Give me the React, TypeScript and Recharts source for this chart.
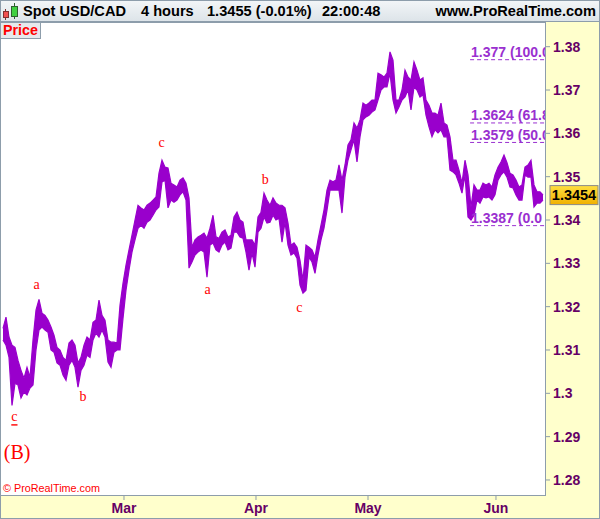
import React from "react";
import { Area, ComposedChart, ReferenceDot, ReferenceLine, XAxis, YAxis } from "recharts";

// USD/CAD 4h, one entry per ~half trading day (high / low of the span)
const HIGHS = [
  1.3150, 1.3176, 1.3130, 1.3111, 1.3106, 1.3076, 1.3053, 1.3035, 1.3060, 1.3037,
  1.3123, 1.3192, 1.3217, 1.3185, 1.3180, 1.3169, 1.3153, 1.3134, 1.3106, 1.3100,
  1.3083, 1.3076, 1.3116, 1.3123, 1.3111, 1.3070, 1.3083, 1.3111, 1.3130, 1.3123,
  1.3164, 1.3169, 1.3215, 1.3180, 1.3169, 1.3123, 1.3118, 1.3118, 1.3116, 1.3203,
  1.3254, 1.3296, 1.3331, 1.3365, 1.3400, 1.3434, 1.3428, 1.3423, 1.3434, 1.3439,
  1.3446, 1.3453, 1.3508, 1.3538, 1.3522, 1.3520, 1.3485, 1.3481, 1.3476, 1.3492,
  1.3497, 1.3485, 1.3451, 1.3337, 1.3354, 1.3361, 1.3365, 1.3370, 1.3358, 1.3381,
  1.3411, 1.3361, 1.3358, 1.3372, 1.3377, 1.3361, 1.3365, 1.3407, 1.3418, 1.3400,
  1.3395, 1.3354, 1.3354, 1.3354, 1.3342, 1.3407, 1.3418, 1.3462, 1.3446, 1.3434,
  1.3451, 1.3439, 1.3434, 1.3434, 1.3428, 1.3393, 1.3342, 1.3347, 1.3337, 1.3307,
  1.3261, 1.3342, 1.3337, 1.3331, 1.3314, 1.3354, 1.3388, 1.3423, 1.3469, 1.3492,
  1.3488, 1.3492, 1.3527, 1.3492, 1.3527, 1.3573, 1.3585, 1.3624, 1.3612, 1.3631,
  1.3670, 1.3665, 1.3670, 1.3677, 1.3677, 1.3739, 1.3735, 1.3730, 1.3739, 1.3788,
  1.3769, 1.3677, 1.3677, 1.3700, 1.3746, 1.3730, 1.3723, 1.3765, 1.3746, 1.3723,
  1.3728, 1.3677, 1.3665, 1.3647, 1.3647, 1.3642, 1.3670, 1.3624, 1.3619, 1.3592,
  1.3538, 1.3538, 1.3515, 1.3485, 1.3538, 1.3504, 1.3430, 1.3481, 1.3469, 1.3469,
  1.3485, 1.3481, 1.3485, 1.3476, 1.3504, 1.3522, 1.3534, 1.3550, 1.3532, 1.3508,
  1.3504, 1.3492, 1.3476, 1.3481, 1.3522, 1.3527, 1.3538, 1.3481, 1.3465, 1.3465,
  1.3458,
];
const LOWS = [
  1.3123, 1.3111, 1.3083, 1.2972, 1.3023, 1.3019, 1.2989, 1.3003, 1.2996, 1.3012,
  1.3019, 1.3100, 1.3146, 1.3153, 1.3146, 1.3141, 1.3100, 1.3095, 1.3070, 1.3065,
  1.3042, 1.3030, 1.3065, 1.3076, 1.3060, 1.3014, 1.3053, 1.3065, 1.3088, 1.3083,
  1.3123, 1.3139, 1.3130, 1.3146, 1.3130, 1.3072, 1.3060, 1.3095, 1.3100, 1.3100,
  1.3173, 1.3238, 1.3284, 1.3326, 1.3354, 1.3381, 1.3388, 1.3381, 1.3395, 1.3400,
  1.3411, 1.3423, 1.3430, 1.3488, 1.3492, 1.3428, 1.3446, 1.3441, 1.3446, 1.3458,
  1.3465, 1.3446, 1.3289, 1.3303, 1.3319, 1.3326, 1.3331, 1.3326, 1.3268, 1.3342,
  1.3347, 1.3331, 1.3326, 1.3342, 1.3349, 1.3331, 1.3335, 1.3372, 1.3372, 1.3361,
  1.3358, 1.3326, 1.3284, 1.3324, 1.3291, 1.3372, 1.3381, 1.3407, 1.3393, 1.3395,
  1.3411, 1.3400, 1.3404, 1.3349, 1.3395, 1.3342, 1.3319, 1.3324, 1.3312, 1.3250,
  1.3231, 1.3238, 1.3314, 1.3303, 1.3277, 1.3319, 1.3354, 1.3381, 1.3423, 1.3469,
  1.3469, 1.3469, 1.3469, 1.3416, 1.3499, 1.3538, 1.3562, 1.3585, 1.3534, 1.3592,
  1.3631, 1.3638, 1.3642, 1.3649, 1.3654, 1.3677, 1.3700, 1.3707, 1.3707, 1.3739,
  1.3677, 1.3647, 1.3661, 1.3677, 1.3684, 1.3700, 1.3654, 1.3707, 1.3700, 1.3684,
  1.3689, 1.3642, 1.3615, 1.3592, 1.3608, 1.3601, 1.3608, 1.3592, 1.3592, 1.3515,
  1.3511, 1.3504, 1.3485, 1.3462, 1.3504, 1.3407, 1.3400, 1.3411, 1.3446, 1.3439,
  1.3453, 1.3451, 1.3453, 1.3446, 1.3458, 1.3492, 1.3504, 1.3511, 1.3499, 1.3476,
  1.3474, 1.3458, 1.3446, 1.3446, 1.3504, 1.3499, 1.3499, 1.3430, 1.3439, 1.3439,
  1.3446,
];

const MONTH_TICKS = [41.33, 85.33, 122.67, 165.33];
const MONTH_LABELS = ["Mar", "Apr", "May", "Jun"];
const PRICE_TICKS = [1.28, 1.29, 1.3, 1.31, 1.32, 1.33, 1.34, 1.35, 1.36, 1.37, 1.38];

// retracement levels; the labels are cut off by the price scale as on screen
const FIB_LEVELS = [1.377, 1.3624, 1.3579, 1.3387];
const FIB_TEXT = ["1.377 (100.0", "1.3624 (61.8", "1.3579 (50.0", "1.3387 (0.0"];
const FIB_FROM = 156.7;

const WAVE_TEXT = ["c", "(B)", "a", "b", "c", "a", "b", "c"];
const WAVE_T = [4.8, 5.7, 12.2, 27.7, 53.9, 69.2, 88.4, 99.8];
const WAVE_PRICE = [1.2946, 1.2865, 1.3252, 1.2992, 1.3578, 1.3239, 1.3494, 1.3198];

const LAST_PRICE = 1.3454;
const X_MAX = 181.67;

const rows = HIGHS.map((hi, i) => ({ t: i + 1, range: [LOWS[i], hi] }));

const SANS = "'Liberation Sans', Arial, sans-serif";
const SERIF = "'Liberation Serif', 'Times New Roman', serif";
const AXIS_TXT = "#660066";
const BORDER = "#8d9dab";
const FIB_COLOR = "#9a30d0";
const LINE_COLOR = "#9900cc";
const PLOT_RIGHT = 545;

function headerText(left: number, text: string, right?: boolean) {
  const pos = right ? { right: 4 } : { left };
  return (
    <span
      style={{
        position: "absolute",
        top: 0,
        ...pos,
        lineHeight: "22px",
        fontSize: 14.6,
        fontWeight: "bold",
        fontFamily: SANS,
        color: "#000",
        whiteSpace: "nowrap",
      }}
    >
      {text}
    </span>
  );
}

export default function App() {
  return (
    <div
      style={{
        position: "absolute",
        left: 0,
        top: 0,
        width: 600,
        height: 519,
        background: "#ffffcc",
        overflow: "hidden",
      }}
    >
      {/* plot background */}
      <div style={{ position: "absolute", left: 0, top: 22, width: 546, height: 474, background: "#fff" }} />

      <div style={{ position: "absolute", left: 0, top: 0 }}>
        <ComposedChart width={600} height={519} data={rows} margin={{ top: 22, right: 0, bottom: 0, left: 0 }}>
          <XAxis
            type="number"
            dataKey="t"
            domain={[0, X_MAX]}
            allowDataOverflow
            ticks={MONTH_TICKS}
            interval={0}
            height={23}
            axisLine={false}
            tickLine={{ stroke: BORDER }}
            tickSize={4}
            tickMargin={3}
            tickFormatter={(v: number) => MONTH_LABELS[MONTH_TICKS.indexOf(v)]}
            tick={{ fill: AXIS_TXT, fontSize: 14, fontWeight: "bold", fontFamily: SANS }}
          />
          <YAxis
            orientation="right"
            domain={[1.2763, 1.3857]}
            allowDataOverflow
            ticks={PRICE_TICKS}
            interval={0}
            width={55}
            axisLine={false}
            tickLine={{ stroke: BORDER }}
            tickSize={5}
            tickMargin={3}
            tickFormatter={(v: number) => String(Number(v.toFixed(2)))}
            tick={{ fill: AXIS_TXT, fontSize: 14, fontWeight: "bold", fontFamily: SANS }}
          />
          <Area
            type="linear"
            dataKey="range"
            fill={LINE_COLOR}
            fillOpacity={1}
            stroke={LINE_COLOR}
            strokeWidth={1.2}
            dot={false}
            activeDot={false}
            isAnimationActive={false}
          />

          {FIB_LEVELS.map((lvl) => (
            <ReferenceLine
              key={"fl" + lvl}
              segment={[
                { x: FIB_FROM, y: lvl },
                { x: X_MAX, y: lvl },
              ]}
              stroke={FIB_COLOR}
              strokeDasharray="4 3"
              strokeWidth={1}
            />
          ))}
          {FIB_LEVELS.map((lvl, i) => (
            <ReferenceDot
              key={"ft" + lvl}
              x={FIB_FROM}
              y={lvl}
              r={0}
              shape={(p: any) => (
                <g>
                  <defs>
                    <clipPath id={"fibClip" + i}>
                      <rect x={p.cx} y={p.cy - 20} width={PLOT_RIGHT - p.cx} height={24} />
                    </clipPath>
                  </defs>
                  <text
                    x={p.cx + 1}
                    y={p.cy - 2.5}
                    clipPath={`url(#fibClip${i})`}
                    fill={FIB_COLOR}
                    fontSize={14}
                    fontWeight="bold"
                    fontFamily={SANS}
                  >
                    {FIB_TEXT[i]}
                  </text>
                </g>
              )}
            />
          ))}

          {WAVE_TEXT.map((txt, i) => (
            <ReferenceDot
              key={"w" + i}
              x={WAVE_T[i]}
              y={WAVE_PRICE[i]}
              r={0}
              shape={(p: any) => (
                <text
                  x={p.cx}
                  y={p.cy}
                  textAnchor="middle"
                  dominantBaseline="central"
                  fill="#ff0000"
                  fontSize={txt === "(B)" ? 20 : 14}
                  fontFamily={SERIF}
                  textDecoration={i === 0 ? "underline" : undefined}
                >
                  {txt}
                </text>
              )}
            />
          ))}

          <ReferenceDot
            x={X_MAX}
            y={LAST_PRICE}
            r={0}
            shape={(p: any) => (
              <g>
                <defs>
                  <linearGradient id="lastGrad" x1="0" y1="0" x2="0" y2="1">
                    <stop offset="0%" stopColor="#ffdf40" />
                    <stop offset="100%" stopColor="#f0b000" />
                  </linearGradient>
                </defs>
                <rect x={p.cx + 5} y={p.cy - 11} width={48} height={19} fill="url(#lastGrad)" stroke="#8a8a8a" />
                <text
                  x={p.cx + 29}
                  y={p.cy - 1.5}
                  textAnchor="middle"
                  dominantBaseline="central"
                  fill="#000"
                  fontSize={14.5}
                  fontWeight="bold"
                  fontFamily={SANS}
                >
                  {LAST_PRICE.toFixed(4)}
                </text>
              </g>
            )}
          />
        </ComposedChart>
      </div>

      {/* header */}
      <div
        style={{
          position: "absolute",
          left: 0,
          top: 0,
          width: 600,
          height: 22,
          boxSizing: "border-box",
          borderBottom: `1px solid ${BORDER}`,
          background: "linear-gradient(#f3f6f8, #dde4e9)",
        }}
      >
        <svg width={20} height={22} style={{ position: "absolute", left: 1, top: 0 }}>
          <line x1={4.5} y1={9} x2={4.5} y2={20} stroke="#803030" />
          <rect x={2.5} y={11.5} width={5} height={6} fill="#f05050" stroke="#803030" />
          <line x1={13.5} y1={3} x2={13.5} y2={19} stroke="#306030" />
          <rect x={10.5} y={6.5} width={6} height={10} fill="#40d040" stroke="#306030" />
        </svg>
        {headerText(23, "Spot USD/CAD")}
        {headerText(141, "4 hours")}
        {headerText(207, "1.3455 (-0.01%)")}
        {headerText(322, "22:00:48")}
        {headerText(0, "www.ProRealTime.com", true)}
      </div>

      {/* Price tag */}
      <div
        style={{
          position: "absolute",
          left: 0,
          top: 22,
          width: 41,
          height: 17,
          boxSizing: "border-box",
          background: "#e6e9ec",
          borderRight: `1px solid ${BORDER}`,
          borderBottom: `1px solid ${BORDER}`,
          color: "#ff0000",
          fontFamily: SANS,
          fontWeight: "bold",
          fontSize: 14.3,
          lineHeight: "17px",
          paddingLeft: 3,
        }}
      >
        Price
      </div>

      <div
        style={{
          position: "absolute",
          left: 3,
          top: 482,
          fontFamily: SANS,
          fontSize: 10.8,
          color: "#ff0000",
          whiteSpace: "nowrap",
        }}
      >
        © ProRealTime.com
      </div>

      {/* plot frame and outer frame */}
      <div
        style={{
          position: "absolute",
          left: 0,
          top: 22,
          width: 546,
          height: 474,
          boxSizing: "border-box",
          border: `1px solid ${BORDER}`,
          pointerEvents: "none",
        }}
      />
      <div
        style={{
          position: "absolute",
          left: 0,
          top: 0,
          width: 600,
          height: 519,
          boxSizing: "border-box",
          border: `1px solid ${BORDER}`,
          pointerEvents: "none",
        }}
      />
    </div>
  );
}
